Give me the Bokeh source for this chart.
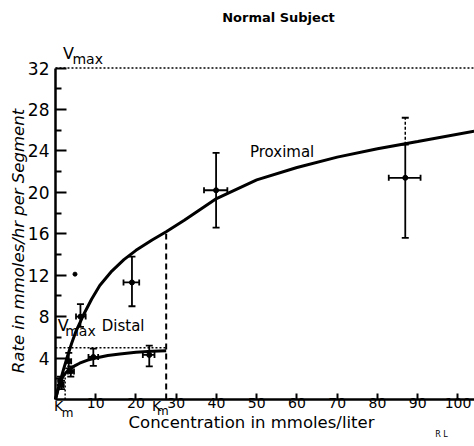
import math
from bokeh.plotting import figure
from bokeh.models import Range1d, FixedTicker, Label, Whisker, TeeHead, ColumnDataSource
from bokeh.embed import file_html
from bokeh.resources import INLINE

# ---------------- data ----------------
VMAX_P = 32.0
KM_P = 27.5
VMAX_D = 5.0
KM_D = 2.4
X_MAX = 104.1

prox_curve_x = [0, 1, 2, 3, 4, 5, 7, 9, 11, 14, 17, 20, 24, 27.5, 32, 40, 50, 60, 70, 80, 90, 104]
prox_curve_y = [0, 1.5, 2.9, 4.2, 5.4, 6.5, 8.2, 9.7, 11.0, 12.4, 13.5, 14.4, 15.4, 16.2, 17.3, 19.4, 21.2, 22.4, 23.4, 24.2, 24.9, 25.9]

dist_curve_x = [0, 0.5, 1, 1.5, 2, 2.5, 3, 4, 5, 6, 8, 10, 13, 16, 20, 24, 27.5]
dist_curve_y = [0, 0.8, 1.45, 1.95, 2.3, 2.55, 2.75, 3.05, 3.3, 3.5, 3.8, 4.0, 4.25, 4.4, 4.55, 4.65, 4.7]

prox_x = [1.2, 3.3, 6.2, 19.0, 39.9, 86.9]
prox_y = [1.8, 3.7, 8.0, 11.3, 20.2, 21.4]
prox_y_lo = [1.4, 3.0, 7.0, 9.0, 16.6, 15.6]
prox_y_hi = [2.2, 4.5, 9.2, 13.8, 23.8, 24.6]
prox_x_lo = [0.7, 2.7, 5.1, 16.9, 36.9, 82.8]
prox_x_hi = [1.7, 3.9, 7.5, 20.8, 42.7, 90.7]
prox_dashed_top = 27.2  # dashed upper part of last proximal error bar

dist_x = [1.5, 3.8, 9.4, 23.3]
dist_y = [1.4, 2.7, 4.1, 4.3]
dist_y_lo = [1.0, 2.2, 3.25, 3.2]
dist_y_hi = [1.8, 3.2, 4.9, 5.2]
dist_x_lo = [1.0, 3.1, 8.2, 21.7]
dist_x_hi = [2.0, 4.6, 10.6, 24.6]

stray_x = [4.85]
stray_y = [12.1]

x_ticks = [10, 20, 30, 40, 50, 60, 70, 80, 90, 100]
y_ticks = [4, 8, 12, 16, 20, 24, 28, 32]
y_minor = [2, 6, 10, 14, 18, 22, 26, 30]

FONT = "DejaVu Sans"

# ---------------- figure ----------------
p = figure(width=474, height=446, output_backend="svg", toolbar_location=None,
           x_range=Range1d(-13.66, 104.1), y_range=Range1d(-4.54, 38.52),
           min_border=0)
p.outline_line_color = None
p.grid.grid_line_color = None

for ax in (p.xaxis[0], p.yaxis[0]):
    ax.fixed_location = 0
    ax.axis_line_width = 2.5
    ax.axis_line_color = "black"
    ax.major_tick_line_width = 2
    ax.minor_tick_line_width = 2
    ax.major_tick_out = 0
    ax.minor_tick_out = 0
    ax.major_label_text_font = FONT
    ax.major_label_text_color = "black"

p.xaxis.bounds = (0, X_MAX)
p.xaxis.ticker = FixedTicker(ticks=x_ticks, minor_ticks=[])
p.xaxis.major_tick_in = 6
p.xaxis.major_label_text_font_size = "14px"
p.xaxis.major_label_standoff = -1

p.yaxis.bounds = (0, VMAX_P)
p.yaxis.ticker = FixedTicker(ticks=y_ticks, minor_ticks=y_minor)
p.yaxis.major_tick_in = 11
p.yaxis.minor_tick_in = 6
p.yaxis.major_label_text_font_size = "17px"
p.yaxis.major_label_standoff = 6

# reference lines
p.segment(x0=[0], y0=[VMAX_P], x1=[X_MAX], y1=[VMAX_P], line_color="black", line_width=1.5, line_dash="2 2")
p.segment(x0=[0], y0=[VMAX_D], x1=[KM_P], y1=[VMAX_D], line_color="black", line_width=1.5, line_dash="2 2")
p.segment(x0=[KM_P], y0=[0], x1=[KM_P], y1=[VMAX_P / 2], line_color="black", line_width=2, line_dash="6 4")
p.segment(x0=[KM_D], y0=[0], x1=[KM_D], y1=[VMAX_D / 2], line_color="black", line_width=1.5, line_dash="2 2")

# curves
p.line(prox_curve_x, prox_curve_y, line_color="black", line_width=3)
p.line(dist_curve_x, dist_curve_y, line_color="black", line_width=3)

# error bars
def add_err(xs, ys, ylo, yhi, xlo, xhi):
    src = ColumnDataSource(dict(x=xs, y=ys, ylo=ylo, yhi=yhi, xlo=xlo, xhi=xhi))
    p.add_layout(Whisker(source=src, base="x", lower="ylo", upper="yhi", dimension="height",
                         line_color="black", line_width=1.8,
                         lower_head=TeeHead(size=7, line_width=1.8, line_color="black"),
                         upper_head=TeeHead(size=7, line_width=1.8, line_color="black")))
    p.add_layout(Whisker(source=src, base="y", lower="xlo", upper="xhi", dimension="width",
                         line_color="black", line_width=1.8,
                         lower_head=TeeHead(size=6, line_width=1.8, line_color="black"),
                         upper_head=TeeHead(size=6, line_width=1.8, line_color="black")))
    p.scatter(xs, ys, size=5, color="black")

add_err(prox_x, prox_y, prox_y_lo, prox_y_hi, prox_x_lo, prox_x_hi)
add_err(dist_x, dist_y, dist_y_lo, dist_y_hi, dist_x_lo, dist_x_hi)

dsrc = ColumnDataSource(dict(x=[prox_x[-1]], lo=[prox_y_hi[-1]], hi=[prox_dashed_top]))
p.add_layout(Whisker(source=dsrc, base="x", lower="lo", upper="hi", dimension="height",
                     line_color="black", line_width=1.5, line_dash="3 2", lower_head=None,
                     upper_head=TeeHead(size=7, line_width=1.8, line_color="black")))

p.scatter(stray_x, stray_y, size=4, color="black")

# texts
def lab(x, y, t, size, style="normal", align="center", angle=0.0):
    p.add_layout(Label(x=x, y=y, text=t, text_font=FONT, text_font_size=size,
                       text_font_style=style, text_align=align, text_baseline="middle",
                       text_color="black", angle=angle))

lab(55.4, 36.88, "Normal Subject", "13px", "bold")
lab(-9.2, 15.3, "Rate in mmoles/hr per Segment", "16.5px", "italic", angle=math.pi / 2)
lab(48.7, -2.25, "Concentration in mmoles/liter", "16.5px")
lab(95.9, -3.38, "R L", "8px")
lab(3.2, 33.4, "V", "16px")
lab(8.0, 32.85, "max", "14px")
lab(1.9, 7.15, "V", "16px")
lab(6.2, 6.65, "max", "14px")
lab(16.8, 7.05, "Distal", "15px")
lab(56.3, 23.9, "Proximal", "15px")
lab(0.75, -0.6, "K", "14px")
lab(3.0, -1.35, "m", "12px")
lab(25.1, -0.6, "K", "14px")
lab(26.7, -1.1, "m", "12px")

open("out.html", "w").write(file_html(p, INLINE))
